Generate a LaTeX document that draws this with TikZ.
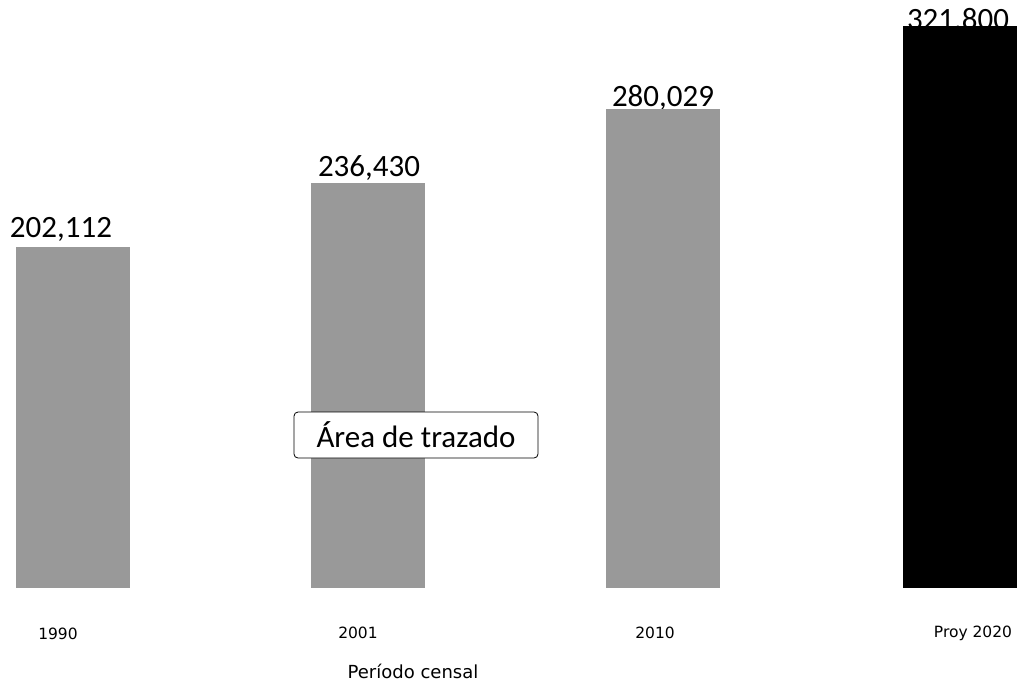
\documentclass[tikz,border=0pt]{standalone}
\usepackage{fontspec}
\setmainfont{Carlito}
\newfontfamily\axisfont{DejaVu Sans}
\begin{document}
\begin{tikzpicture}[x=1pt,y=-1pt,
  bar/.style={fill=black!40,draw=none},
  projbar/.style={fill=black,draw=none},
  vallabel/.style={font=\fontsize{31}{36}\selectfont,inner sep=0pt,anchor=base},
  catlabel/.style={font=\axisfont\fontsize{15.5}{18}\selectfont,inner sep=0pt,anchor=base},
  tiplabel/.style={draw=black,line width=0.8pt,rounded corners=4pt,fill=white,
    font=\fontsize{31}{36}\selectfont,minimum width=244pt,minimum height=46pt,inner sep=0pt}]
\useasboundingbox (0,0) rectangle (1020,683);
% value labels
\node[vallabel] (v1) at (61,237) {202,112};
\node[vallabel] (v2) at (369,176) {236,430};
\node[vallabel] (v3) at (663,106) {280,029};
\node[vallabel] (v4) at (958,29) {321,800};
% bars
\fill[bar] (16,247) rectangle (130,588);
\fill[bar] (311,183) rectangle (425,588);
\fill[bar] (606,109) rectangle (720,588);
\fill[projbar] (903,26) rectangle (1017,588);
% category labels
\node[catlabel] (c1) at (58,639) {1990};
\node[catlabel] (c2) at (358,638) {2001};
\node[catlabel] (c3) at (655,638) {2010};
\node[catlabel] (c4) at (973,637) {Proy 2020};
\node[catlabel,font=\axisfont\fontsize{18}{22}\selectfont] (xt) at (413,678) {Período censal};
% tooltip
\node[tiplabel] (tip) at (416,435) {Área de trazado};
\end{tikzpicture}
\end{document}
